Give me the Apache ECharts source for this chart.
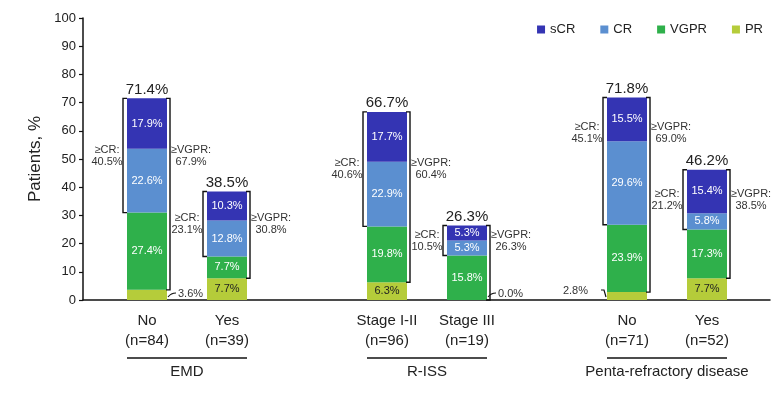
<!DOCTYPE html>
<html>
<head>
<meta charset="utf-8">
<title>Response by subgroup</title>
<script src="https://cdn.jsdelivr.net/npm/echarts@6/dist/echarts.min.js"></script>
<style>
  html, body { margin: 0; padding: 0; background: #fff; }
  #chart { width: 783px; height: 398px; }
</style>
</head>
<body>
<div id="chart"></div>
<script>
var categories = ['No', 'Yes', '', 'Stage I-II', 'Stage III', '', 'No', 'Yes'];
var sizes = ['(n=84)', '(n=39)', '', '(n=96)', '(n=19)', '', '(n=71)', '(n=52)'];
var prVals = [3.6, 7.7, null, 6.3, 0.0, null, 2.8, 7.7];
var vgprVals = [27.4, 7.7, null, 19.8, 15.8, null, 23.9, 17.3];
var crVals = [22.6, 12.8, null, 22.9, 5.3, null, 29.6, 5.8];
var scrVals = [17.9, 10.3, null, 17.7, 5.3, null, 15.5, 15.4];
var totals = [71.4, 38.5, null, 66.7, 26.3, null, 71.8, 46.2];
var geCR = [40.5, 23.1, null, 40.6, 10.5, null, 45.1, 21.2];
var geVGPR = [67.9, 30.8, null, 60.4, 26.3, null, 69.0, 38.5];
var groups = ['EMD', 'R-ISS', 'Penta-refractory disease'];
var groupSpans = [[0, 1], [3, 4], [6, 7]];
var legendNames = ['sCR', 'CR', 'VGPR', 'PR'];

// layout tweaks
var prSmallSide = ['right', '', '', '', 'right', '', 'left', ''];
var crLabelShift = [0, 0, 0, 0, 0, 0, 10, 0];

var font = 'Liberation Sans, Arial, sans-serif';
var colors = { sCR: '#3434b3', CR: '#5b8fd0', VGPR: '#2fb04b', PR: '#b5cc3a' };

var chart = echarts.init(document.getElementById('chart'));

function fmt(v) { return v.toFixed(1) + '%'; }

function barSeries(name, data, labelColor) {
  return {
    name: name,
    type: 'bar',
    stack: 'resp',
    xAxisIndex: 1,
    yAxisIndex: 1,
    barWidth: '50%',
    data: data,
    itemStyle: { color: colors[name] },
    label: {
      show: true,
      position: 'inside',
      fontFamily: font,
      fontSize: 11,
      color: labelColor,
      formatter: function (p) {
        return p.value >= 5 ? fmt(p.value) : '';
      }
    },
    emphasis: { disabled: true }
  };
}

// stack boundaries for the brackets
var bracketData = [];
for (var k = 0; k < categories.length; k++) {
  if (totals[k] == null) continue;
  var prTop = prVals[k];
  var vgTop = prTop + vgprVals[k];
  var stackTop = vgTop + crVals[k] + scrVals[k];
  bracketData.push([k, prTop, vgTop, stackTop]);
}

var option = {
  animation: false,
  textStyle: { fontFamily: font },
  legend: {
    data: legendNames,
    right: 15,
    top: 18,
    icon: 'rect',
    itemWidth: 8,
    itemHeight: 8,
    itemGap: 25,
    textStyle: { fontSize: 13, color: '#222', fontFamily: font }
  },
  grid: [
    { left: 83, right: 13, top: 18, bottom: 98 },
    { left: 107, right: 36, top: 18, bottom: 98 }
  ],
  xAxis: [
    {
      gridIndex: 0, type: 'value', min: 0, max: 1,
      axisLine: { show: true, lineStyle: { color: '#111', width: 1.5 } },
      axisTick: { show: false }, axisLabel: { show: false }, splitLine: { show: false }
    },
    {
      gridIndex: 1, type: 'category', data: categories,
      axisLine: { show: false }, axisTick: { show: false },
      axisLabel: {
        margin: 11,
        fontSize: 15,
        lineHeight: 20,
        color: '#222',
        fontFamily: font,
        interval: 0,
        formatter: function (v, idx) {
          return categories[idx] ? categories[idx] + '\n' + sizes[idx] : '';
        }
      }
    }
  ],
  yAxis: [
    {
      gridIndex: 0, type: 'value', min: 0, max: 100, interval: 10,
      name: 'Patients, %',
      nameLocation: 'middle',
      nameGap: 34,
      nameTextStyle: { fontSize: 17, color: '#222', fontFamily: font },
      axisLine: { show: true, lineStyle: { color: '#111', width: 1.5 } },
      axisTick: { show: true, length: 4, lineStyle: { color: '#111', width: 1.2 } },
      axisLabel: { fontSize: 13, color: '#222', margin: 7, fontFamily: font },
      splitLine: { show: false }
    },
    {
      gridIndex: 1, type: 'value', min: 0, max: 100, show: false
    }
  ],
  series: [
    barSeries('PR', prVals, '#222'),
    barSeries('VGPR', vgprVals, '#fff'),
    barSeries('CR', crVals, '#fff'),
    barSeries('sCR', scrVals, '#fff'),
    {
      type: 'custom',
      name: 'brackets',
      xAxisIndex: 1,
      yAxisIndex: 1,
      silent: true,
      z: 5,
      data: bracketData,
      encode: { x: 0, y: 3 },
      renderItem: function (params, api) {
        var i = api.value(0);
        var w = api.size([1, 0])[0] * 0.5;
        var cx = api.coord([i, 0])[0];
        var y0 = api.coord([i, 0])[1];
        var yPr = api.coord([i, api.value(1)])[1];
        var yPv = api.coord([i, api.value(2)])[1];
        var yTop = api.coord([i, api.value(3)])[1];
        var left = cx - w / 2 - 4;
        var right = cx + w / 2 + 3;
        var line = { stroke: '#111', lineWidth: 1.4, fill: null };
        var txt = { fontFamily: font, fill: '#333', fontSize: 11, lineHeight: 12, align: 'center', verticalAlign: 'middle' };
        var labelY = (yTop + yPv) / 2 - crLabelShift[i] * api.size([0, 1])[1];
        var kids = [
          { type: 'polyline', shape: { points: [[left + 4, yTop], [left, yTop], [left, yPv], [left + 4, yPv]] }, style: line },
          { type: 'polyline', shape: { points: [[right - 4, yTop], [right, yTop], [right, yPr], [right - 4, yPr]] }, style: line },
          { type: 'text', x: cx, y: yTop - 9, style: { text: fmt(totals[i]), fontFamily: font, fontSize: 15, fill: '#222', align: 'center', verticalAlign: 'middle' } },
          { type: 'text', x: left - 16, y: labelY, style: Object.assign({ text: '\u2265CR:\n' + fmt(geCR[i]) }, txt) },
          { type: 'text', x: right + 21, y: labelY, style: Object.assign({ text: '\u2265VGPR:\n' + fmt(geVGPR[i]) }, txt) }
        ];
        if (prVals[i] < 5) {
          if (prSmallSide[i] === 'left') {
            var lx = cx - w / 2;
            kids.push({ type: 'polyline', shape: { points: [[lx - 6, y0 - 10], [lx - 3, y0 - 10], [lx - 1, y0 - 3]] }, style: { stroke: '#111', lineWidth: 1.2, fill: null } });
            kids.push({ type: 'text', x: lx - 19, y: y0 - 9, style: { text: fmt(prVals[i]), fontFamily: font, fontSize: 11, fill: '#333', align: 'right', verticalAlign: 'middle' } });
          } else {
            var rx = cx + w / 2;
            kids.push({ type: 'bezierCurve', shape: { x1: rx + 1, y1: y0 - 3, cpx1: rx + 4, cpy1: y0 - 7, x2: rx + 9, y2: y0 - 7 }, style: { stroke: '#111', lineWidth: 1.2, fill: null } });
            kids.push({ type: 'text', x: rx + 11, y: y0 - 6, style: { text: fmt(prVals[i]), fontFamily: font, fontSize: 11, fill: '#333', align: 'left', verticalAlign: 'middle' } });
          }
        }
        return { type: 'group', children: kids };
      }
    },
    {
      type: 'custom',
      name: 'groups',
      xAxisIndex: 1,
      yAxisIndex: 1,
      silent: true,
      data: groupSpans.map(function (s, g) { return [s[0], s[1], g]; }),
      encode: { x: [0, 1] },
      renderItem: function (params, api) {
        var w = api.size([1, 0])[0] * 0.5;
        var a = api.coord([api.value(0), 0]);
        var b = api.coord([api.value(1), 0]);
        var x1 = a[0] - w / 2, x2 = b[0] + w / 2;
        return {
          type: 'group',
          children: [
            { type: 'line', shape: { x1: x1, y1: a[1] + 58, x2: x2, y2: a[1] + 58 }, style: { stroke: '#111', lineWidth: 1.3 } },
            { type: 'text', x: (x1 + x2) / 2, y: a[1] + 72, style: { text: groups[api.value(2)], fontFamily: font, fontSize: 15, fill: '#222', align: 'center', verticalAlign: 'middle' } }
          ]
        };
      }
    }
  ]
};

chart.setOption(option);
</script>
</body>
</html>
